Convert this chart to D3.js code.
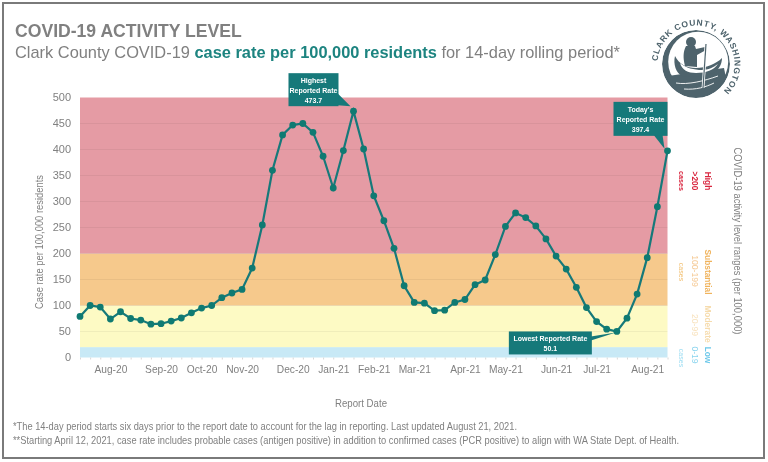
<!DOCTYPE html>
<html><head><meta charset="utf-8">
<script src="https://cdn.jsdelivr.net/npm/d3@7"></script>
<style>
html,body{margin:0;padding:0;background:#fff}
svg{display:block;font-family:"Liberation Sans",Arial,sans-serif;filter:blur(0.35px)}
</style></head><body><svg id="c" width="768" height="462"></svg>
<script>
const caseRates=[79,100,97,74,88,75,72,64,65,70,76,86,95,100,115,124,131,172,255,360,428,447,450,433,387,326,398,473.7,401,311,263,210,138,106,104.5,90,91,106,111.5,140,149,198,252,278,269,253,228,195,170,135,96,69,54.5,50.1,75.6,122,192,290,397.4];
const monthLabels=["Aug-20","Sep-20","Oct-20","Nov-20","Dec-20","Jan-21","Feb-21","Mar-21","Apr-21","May-21","Jun-21","Jul-21","Aug-21"];
const monthIndex=[3,8,12,16,21,25,29,33,38,42,47,51,56];
const yTicks=[0,50,100,150,200,250,300,350,400,450,500];
const bandLimits=[0,20,100,200,500];
const bandColors=["#c8e9f6","#fdfac4","#f6c98c","#e59ba4"];
const activityLevels=[
 {x:708,y:181,t:"High",s:8.4,w:"bold",c:"#d9263f"},{x:695,y:181,t:">200",s:8.4,w:"bold",c:"#d9263f"},{x:682,y:181,t:"cases",s:7.2,w:"bold",c:"#d9263f"},
 {x:708,y:272,t:"Substantial",s:8.4,w:"bold",c:"#f0b35c"},{x:695,y:271,t:"100-199",s:8.6,w:"normal",c:"#f5c994"},{x:682,y:272,t:"cases",s:7,w:"normal",c:"#f1bd6c"},
 {x:708,y:324,t:"Moderate",s:8.4,w:"bold",c:"#f6dcae"},{x:695,y:325,t:"20-99",s:8.6,w:"normal",c:"#f8e2bd"},
 {x:708,y:355,t:"Low",s:8.4,w:"bold",c:"#6cc8ea"},{x:695,y:355,t:"0-19",s:8.6,w:"normal",c:"#8ad4ee"},{x:682,y:358,t:"cases",s:7,w:"normal",c:"#9adcf2"}];
const footnotes=["*The 14-day period starts six days prior to the report date to account for the lag in reporting. Last updated August 21, 2021.",
"**Starting April 12, 2021, case rate includes probable cases (antigen positive) in addition to confirmed cases (PCR positive) to align with WA State Dept. of Health."];
const footnoteWidths=[504,666];

const svg=d3.select("#c");
const teal="#16797a",grey="#808080";
const x=d3.scalePoint().domain(d3.range(caseRates.length)).range([80,667.5]);
const y=d3.scaleLinear().domain([0,500]).range([357.5,97.5]);

svg.append("rect").attr("x",3).attr("y",3).attr("width",761).attr("height",455).attr("fill","#fff").attr("stroke","#7a7a7a").attr("stroke-width",2);

// title
svg.append("text").attr("x",15).attr("y",37).attr("font-size",17.6).attr("font-weight","bold").attr("fill",grey).text("COVID-19 ACTIVITY LEVEL");
const st=svg.append("text").attr("x",15).attr("y",58).attr("font-size",16.4).attr("fill",grey);
st.append("tspan").text("Clark County COVID-19 ");
st.append("tspan").attr("font-weight","bold").attr("fill","#1d8480").text("case rate per 100,000 residents");
st.append("tspan").text(" for 14-day rolling period*");

// bands
svg.selectAll("rect.band").data(bandColors).join("rect").attr("class","band")
 .attr("x",x.range()[0]).attr("width",x.range()[1]-x.range()[0])
 .attr("y",(d,i)=>y(bandLimits[i+1])).attr("height",(d,i)=>y(bandLimits[i])-y(bandLimits[i+1])).attr("fill",d=>d);
svg.append("g").selectAll("line").data(yTicks.slice(1,-1)).join("line")
 .attr("x1",x.range()[0]).attr("x2",x.range()[1]).attr("y1",d=>y(d)).attr("y2",d=>y(d))
 .attr("stroke","#000").attr("stroke-opacity",.05);

// axes
const yAxis=d3.axisLeft(y).tickValues(yTicks).tickSize(0).tickPadding(9);
const gy=svg.append("g").attr("transform",`translate(${x.range()[0]},0)`).call(yAxis);
gy.select(".domain").remove();
gy.selectAll("text").attr("font-size",11).attr("fill",grey).attr("font-family","inherit").attr("dy","0.28em");
const gt=svg.append("g").attr("transform",`translate(0,${y(0)})`)
 .call(d3.axisBottom(x).tickValues(x.domain()).tickSize(2).tickFormat(""));
gt.select(".domain").remove();gt.selectAll("line").attr("stroke","#d8d8d8");
const gx=svg.append("g").attr("transform",`translate(0,${y(0)})`)
 .call(d3.axisBottom(x).tickValues(monthIndex).tickSize(0).tickPadding(8.5).tickFormat((d,i)=>monthLabels[i]));
gx.select(".domain").remove();
gx.selectAll("text").attr("font-size",10.2).attr("fill",grey).attr("font-family","inherit");

svg.append("text").attr("transform","translate(43,242) rotate(-90)").attr("text-anchor","middle").attr("font-size",10.4).attr("textLength",134).attr("lengthAdjust","spacingAndGlyphs").attr("fill",grey).text("Case rate per 100,000 residents");
svg.append("text").attr("x",361).attr("y",407).attr("text-anchor","middle").attr("font-size",10.4).attr("textLength",52).attr("lengthAdjust","spacingAndGlyphs").attr("fill",grey).text("Report Date");
svg.append("g").selectAll("text").data(footnotes).join("text").attr("x",13).attr("y",(d,i)=>430+i*14)
 .attr("font-size",10.2).attr("textLength",(d,i)=>footnoteWidths[i]).attr("lengthAdjust","spacingAndGlyphs").attr("fill",grey).text(d=>d);

// right labels
svg.append("text").attr("transform","translate(733.5,241) rotate(90)").attr("text-anchor","middle").attr("font-size",10.6).attr("textLength",187).attr("lengthAdjust","spacingAndGlyphs").attr("fill",grey).text("COVID-19 activity level ranges (per 100,000)");
svg.append("g").selectAll("text").data(activityLevels).join("text")
 .attr("transform",d=>`translate(${d.x-3},${d.y}) rotate(90)`).attr("text-anchor","middle")
 .attr("font-size",d=>d.s).attr("font-weight",d=>d.w).attr("fill",d=>d.c).text(d=>d.t);

// line and dots
svg.append("path").datum(caseRates).attr("fill","none").attr("stroke",teal).attr("stroke-width",2.2)
 .attr("d",d3.line().x((d,i)=>x(i)).y(d=>y(d)));
svg.append("g").selectAll("circle").data(caseRates).join("circle")
 .attr("cx",(d,i)=>x(i)).attr("cy",d=>y(d)).attr("r",3.4).attr("fill","#0f7a72");

// callouts: box offsets relative to the data point they point at
function callout(i,dx0,dx1,dy0,dy1,tail,lines,tipOff){
 const px=x(i),py=y(caseRates[i]);
 const tx=px+tipOff[0],ty=py+tipOff[1];
 const g=svg.append("g");
 g.append("path").attr("fill",teal).attr("d",`M${px+tail[0]},${py+tail[1]}L${tx},${ty}L${px+tail[2]},${py+tail[3]}Z`);
 g.append("rect").attr("x",px+dx0).attr("width",dx1-dx0).attr("y",py+dy0).attr("height",dy1-dy0).attr("fill",teal);
 const lh=(dy1-dy0-3)/lines.length;
 g.selectAll("text").data(lines).join("text").attr("x",px+(dx0+dx1)/2).attr("y",(d,k)=>py+dy0+2+lh*(k+.5)+2.6)
  .attr("text-anchor","middle").attr("font-size",7).attr("font-weight","bold").attr("fill","#fff").text(d=>d);
}
callout(27,-65,-15,-38,-5,[-16,-18,-16,-6],["Highest","Reported Rate","473.7"],[-3,-5]);
callout(58,-54,0,-49,-15,[-14,-16,-5,-16],["Today's","Reported Rate","397.4"],[-3,-2]);
callout(53,-108,-25,0,23,[-26,5,-26,9],["Lowest Reported Rate","50.1"],[-1,1]);

// logo
const L=svg.append("g").attr("transform","translate(696,64)");
const lc="#4e636c";
const defs=svg.append("defs");
defs.append("mask").attr("id","cres").call(m=>{
 m.append("circle").attr("r",34).attr("fill","#fff");
 m.append("circle").attr("cx",2.2).attr("cy",-2.2).attr("r",30).attr("fill","#000");});
defs.append("clipPath").attr("id","inner").append("circle").attr("r",33);
L.append("circle").attr("r",34).attr("fill",lc).attr("mask","url(#cres)");
L.append("g").attr("clip-path","url(#inner)").append("path").attr("fill",lc).attr("d","M-28,12L28,4L34,34L-34,34Z");
L.append("path").attr("d","M-20,19C-8,21,8,17,22,12M-12,25C0,26,10,23,18,19").attr("stroke","#fff").attr("stroke-width",.9).attr("fill","none");
L.append("path").attr("fill",lc).attr("d","M-21,-8C-23,0-20,9-14,12C-2,14,14,12,20,7C25,3,26,-3,26,-6C20,0,10,4,0,4C-10,4,-17,0,-21,-8Z");
L.append("path").attr("fill","#fff").attr("d","M-16,-1C-10,4,-2,6,6,6C12,6,18,3,22,0C18,6,10,9,0,9C-8,9,-14,6,-16,-1Z");
L.append("circle").attr("cx",-5).attr("cy",-22).attr("r",5).attr("fill",lc);
L.append("path").attr("fill",lc).attr("d","M-10,-18L-1,-18L0,-15L9,-17L10,-14L1,-9L1,3L-11,2C-13,-6-13,-12-10,-18Z");
L.append("line").attr("x1",10).attr("y1",-20).attr("x2",7).attr("y2",24).attr("stroke","#fff").attr("stroke-width",2.8);
L.append("line").attr("x1",10).attr("y1",-20).attr("x2",7).attr("y2",24).attr("stroke",lc).attr("stroke-width",1.2);
defs.append("path").attr("id","arc").attr("d",d3.arc()({innerRadius:38.5,outerRadius:38.5,startAngle:-1.5,endAngle:2.4}).split("A").slice(0,2).join("A"));
L.append("text").attr("font-size",8.5).attr("font-weight","bold").attr("fill",lc).attr("letter-spacing",0.75)
 .append("textPath").attr("href","#arc").text("CLARK COUNTY, WASHINGTON");
</script></body></html>
